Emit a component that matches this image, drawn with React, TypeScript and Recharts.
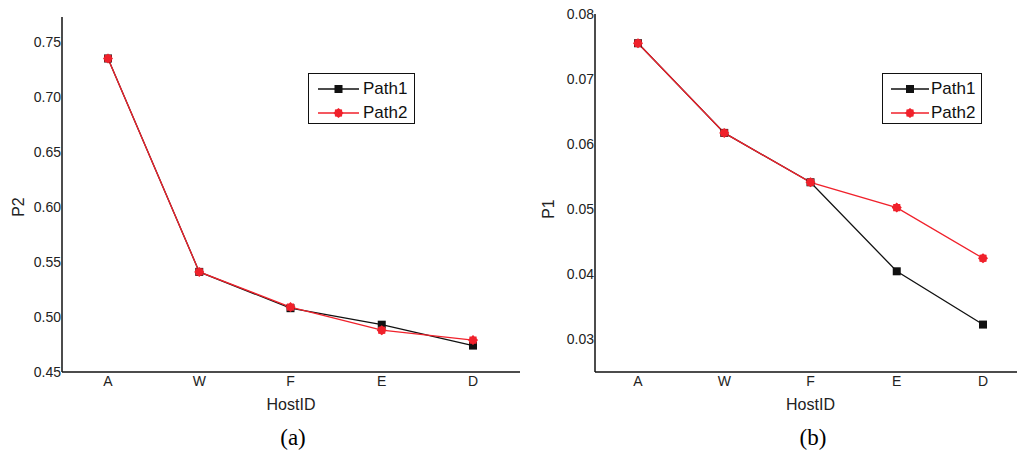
import { LineChart, Line, XAxis, YAxis, Legend, Label } from 'recharts';

const hosts = ['A', 'W', 'F', 'E', 'D'];

// panel (a): P2
const p2Path1 = [0.735, 0.541, 0.508, 0.493, 0.474];
const p2Path2 = [0.735, 0.541, 0.509, 0.488, 0.479];
const p2Ticks = [0.45, 0.5, 0.55, 0.6, 0.65, 0.7, 0.75];

// panel (b): P1
const p1Path1 = [0.0755, 0.0617, 0.0541, 0.0404, 0.0322];
const p1Path2 = [0.0755, 0.0617, 0.0541, 0.0502, 0.0424];
const p1Ticks = [0.03, 0.04, 0.05, 0.06, 0.07, 0.08];

const seriesNames = ['Path1', 'Path2'];

const RED = '#f0212b';
const BLACK = '#111';
const SANS = 'Liberation Sans, Arial, sans-serif';

const dataA = hosts.map((h, i) => ({ host: h, Path1: p2Path1[i], Path2: p2Path2[i] }));
const dataB = hosts.map((h, i) => ({ host: h, Path1: p1Path1[i], Path2: p1Path2[i] }));

function starPoints(cx: number, cy: number, outer: number, inner: number, n: number) {
  const pts: string[] = [];
  for (let i = 0; i < n * 2; i++) {
    const r = i % 2 === 0 ? outer : inner;
    const a = (Math.PI * i) / n - Math.PI / 2;
    pts.push(`${cx + r * Math.cos(a)},${cy + r * Math.sin(a)}`);
  }
  return pts.join(' ');
}

const SquareDot = (props: any) => {
  const { cx, cy, index } = props;
  if (cx == null || cy == null) return null;
  return <rect key={`sq-${index}`} x={cx - 4} y={cy - 4} width={8} height={8} fill={BLACK} />;
};

const StarDot = (props: any) => {
  const { cx, cy, index } = props;
  if (cx == null || cy == null) return null;
  return <polygon key={`st-${index}`} points={starPoints(cx, cy, 5, 4, 8)} fill={RED} />;
};

const LegendBox = ({ width, lineX1, lineX2, textX, fontSize }: any) => (
  <div
    style={{
      position: 'relative',
      width,
      height: 51,
      border: '1.5px solid #111',
      boxSizing: 'border-box',
      background: '#fff',
      fontFamily: SANS,
      fontSize,
    }}
  >
    {seriesNames.map((name, i) => {
      const cy = i === 0 ? 15 : 39;
      const color = i === 0 ? BLACK : RED;
      const mid = (lineX1 + lineX2) / 2;
      return (
        <div key={name}>
          <svg style={{ position: 'absolute', left: 0, top: 0 }} width={width} height={51}>
            <line x1={lineX1} x2={lineX2} y1={cy} y2={cy} stroke={color} strokeWidth={1.5} />
            {i === 0 ? (
              <rect x={mid - 4} y={cy - 4} width={8} height={8} fill={color} />
            ) : (
              <polygon points={starPoints(mid, cy, 5, 4, 8)} fill={color} />
            )}
          </svg>
          <span
            style={{
              position: 'absolute',
              left: textX,
              top: cy - fontSize * 0.6,
              lineHeight: 1.15,
              color: '#111',
            }}
          >
            {name}
          </span>
        </div>
      );
    })}
  </div>
);

const tickStyle = { fill: '#222', fontSize: 14, fontFamily: SANS };

function YTitle(text: string, x: number, y: number) {
  return () => (
    <text
      x={x}
      y={y}
      transform={`rotate(-90, ${x}, ${y})`}
      textAnchor="middle"
      dominantBaseline="central"
      fontFamily={SANS}
      fontSize={16}
      fill="#222"
    >
      {text}
    </text>
  );
}

function XTitle(text: string) {
  return ({ viewBox }: any) => (
    <text
      x={viewBox.x + viewBox.width / 2}
      y={404}
      textAnchor="middle"
      dominantBaseline="central"
      fontFamily={SANS}
      fontSize={16}
      fill="#222"
    >
      {text}
    </text>
  );
}

export default function App() {
  return (
    <div
      style={{
        position: 'absolute',
        left: 0,
        top: 0,
        width: 1017,
        height: 457,
        overflow: 'hidden',
        background: '#fff',
      }}
    >
      <div style={{ position: 'absolute', left: 0, top: 0 }}>
        <LineChart width={530} height={420} data={dataA} margin={{ top: 17, right: 10, left: 2, bottom: 10 }}>
          <XAxis
            dataKey="host"
            padding={{ left: 46, right: 47 }}
            tickLine={false}
            tickSize={0}
            tickMargin={4}
            tick={tickStyle}
            stroke={BLACK}
            strokeWidth={1.5}
            height={38}
          >
            <Label content={XTitle('HostID')} />
          </XAxis>
          <YAxis
            domain={[0.45, 0.7727]}
            ticks={p2Ticks}
            tickFormatter={(v: number) => v.toFixed(2)}
            tickLine={false}
            tickSize={0}
            tickMargin={1}
            tick={tickStyle}
            stroke={BLACK}
            strokeWidth={1.5}
            width={60}
            allowDataOverflow
          >
            <Label content={YTitle('P2', 18, 207)} />
          </YAxis>
          <Legend
            layout="vertical"
            align="center"
            verticalAlign="middle"
            wrapperStyle={{ left: 308, top: 73, width: 107 }}
            content={() => <LegendBox width={107} lineX1={9} lineX2={50} textX={54} fontSize={17} />}
          />
          <Line dataKey="Path1" stroke={BLACK} strokeWidth={1.3} dot={<SquareDot />} isAnimationActive={false} />
          <Line dataKey="Path2" stroke={RED} strokeWidth={1.3} dot={<StarDot />} isAnimationActive={false} />
        </LineChart>
      </div>

      <div style={{ position: 'absolute', left: 533, top: 0 }}>
        <LineChart width={493} height={420} data={dataB} margin={{ top: 14, right: 0, left: 2, bottom: 10 }}>
          <XAxis
            dataKey="host"
            padding={{ left: 43, right: 43 }}
            tickLine={false}
            tickSize={0}
            tickMargin={4}
            tick={tickStyle}
            stroke={BLACK}
            strokeWidth={1.5}
            height={38}
          >
            <Label content={XTitle('HostID')} />
          </XAxis>
          <YAxis
            domain={[0.0249, 0.08]}
            ticks={p1Ticks}
            tickFormatter={(v: number) => v.toFixed(2)}
            tickLine={false}
            tickSize={0}
            tickMargin={1}
            tick={tickStyle}
            stroke={BLACK}
            strokeWidth={1.5}
            width={60}
            allowDataOverflow
          >
            <Label content={YTitle('P1', 15, 209)} />
          </YAxis>
          <Legend
            layout="vertical"
            align="center"
            verticalAlign="middle"
            wrapperStyle={{ left: 349, top: 73, width: 100 }}
            content={() => <LegendBox width={100} lineX1={8} lineX2={46} textX={48} fontSize={17} />}
          />
          <Line dataKey="Path1" stroke={BLACK} strokeWidth={1.3} dot={<SquareDot />} isAnimationActive={false} />
          <Line dataKey="Path2" stroke={RED} strokeWidth={1.3} dot={<StarDot />} isAnimationActive={false} />
        </LineChart>
      </div>

      <div
        style={{
          position: 'absolute',
          left: 263,
          width: 60,
          top: 424,
          textAlign: 'center',
          fontFamily: 'Liberation Serif, Times New Roman, serif',
          fontSize: 23,
          lineHeight: '28px',
        }}
      >
        (a)
      </div>
      <div
        style={{
          position: 'absolute',
          left: 783,
          width: 60,
          top: 424,
          textAlign: 'center',
          fontFamily: 'Liberation Serif, Times New Roman, serif',
          fontSize: 23,
          lineHeight: '28px',
        }}
      >
        (b)
      </div>
    </div>
  );
}
